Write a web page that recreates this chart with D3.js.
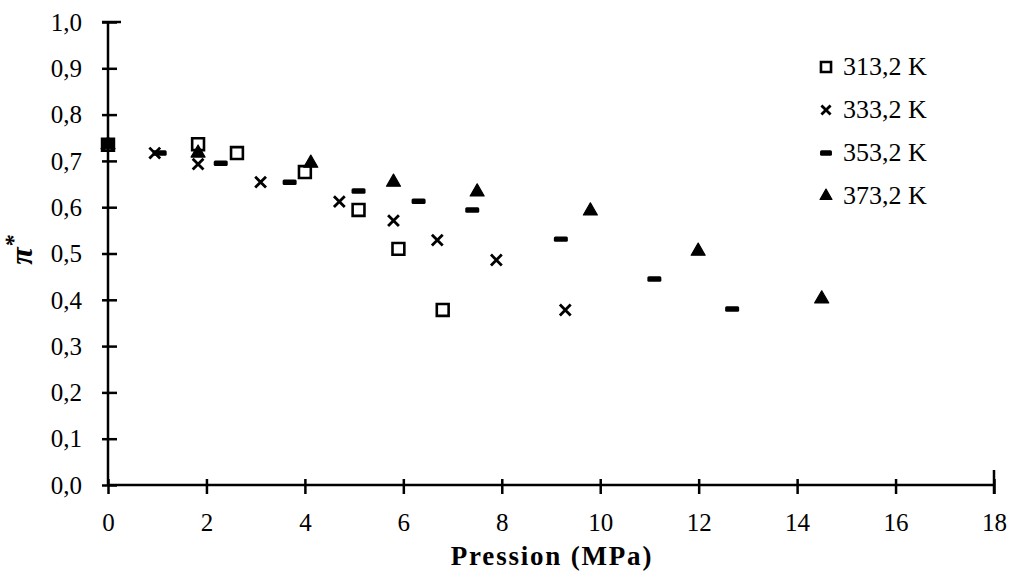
<!DOCTYPE html>
<html>
<head>
<meta charset="utf-8">
<script src="https://cdn.jsdelivr.net/npm/d3@7/dist/d3.min.js"></script>
<style>
  html, body { margin: 0; padding: 0; background: #fff; }
  svg { display: block; }
  text { font-family: "Liberation Serif", "DejaVu Serif", serif; fill: #000; }
</style>
</head>
<body>
<svg id="chart" width="1010" height="571"></svg>
<script>
// ---- data ----
const seriesNames = ["313,2 K", "333,2 K", "353,2 K", "373,2 K"];
const p313 = [0, 1.83, 2.62, 4.0, 5.09, 5.9, 6.8];
const v313 = [0.735, 0.736, 0.717, 0.676, 0.594, 0.510, 0.378];
const p333 = [0, 0.95, 1.83, 3.1, 4.7, 5.8, 6.69, 7.89, 9.29];
const v333 = [0.735, 0.717, 0.693, 0.654, 0.612, 0.571, 0.529, 0.486, 0.378];
const p353 = [0, 1.05, 2.29, 3.69, 5.09, 6.31, 7.4, 9.2, 11.1, 12.68];
const v353 = [0.735, 0.717, 0.695, 0.654, 0.635, 0.613, 0.594, 0.531, 0.445, 0.380];
const p373 = [0, 1.83, 4.12, 5.8, 7.5, 9.8, 11.99, 14.5];
const v373 = [0.735, 0.717, 0.695, 0.654, 0.633, 0.592, 0.505, 0.402];
const xTicks = [0, 2, 4, 6, 8, 10, 12, 14, 16, 18];
const yTicks = [0, 0.1, 0.2, 0.3, 0.4, 0.5, 0.6, 0.7, 0.8, 0.9, 1.0];
const xTitle = "Pression (MPa)";

const series = [
  {name: seriesNames[0], p: p313, v: v313, kind: "square"},
  {name: seriesNames[1], p: p333, v: v333, kind: "times"},
  {name: seriesNames[2], p: p353, v: v353, kind: "dash"},
  {name: seriesNames[3], p: p373, v: v373, kind: "triangle"}
];

const svg = d3.select("#chart");
const x = d3.scaleLinear().domain([0, 18]).range([108, 994]);
const y = d3.scaleLinear().domain([0, 1]).range([485, 22]);
const fmt = v => d3.format(".1f")(v).replace(".", ",");

// axes
const xAxis = d3.axisBottom(x).tickValues(xTicks).tickSize(0).tickPadding(0).tickFormat(d => String(d));
const gx = svg.append("g").attr("transform", `translate(0,${y(0)})`).call(xAxis);
gx.select(".domain").remove();
gx.selectAll(".tick text").attr("y", 46).attr("dy", null).style("font-size", "25px").style("font-family", "Liberation Serif");
gx.selectAll(".tick").append("line").attr("y1", -6).attr("y2", 9).attr("stroke", "#000").attr("stroke-width", 2.5);

const yAxis = d3.axisLeft(y).tickValues(yTicks).tickSize(0).tickPadding(0).tickFormat(fmt);
const gy = svg.append("g").attr("transform", `translate(${x(0)},0)`).call(yAxis);
gy.select(".domain").remove();
gy.selectAll(".tick text").attr("x", -26).attr("dy", "0.33em").style("font-size", "25px").style("font-family", "Liberation Serif");
gy.selectAll(".tick").append("line").attr("x1", -6).attr("x2", 9).attr("stroke", "#000").attr("stroke-width", 2.5);

// axis lines
svg.append("line").attr("x1", x(0)).attr("x2", x(18)).attr("y1", y(0)).attr("y2", y(0))
  .attr("stroke", "#000").attr("stroke-width", 2.5);
svg.append("line").attr("x1", x(0)).attr("x2", x(0)).attr("y1", y(0)).attr("y2", y(1))
  .attr("stroke", "#000").attr("stroke-width", 2.5);
// end caps (Excel-style)
svg.append("line").attr("x1", x(0) - 6).attr("x2", x(0) + 13).attr("y1", y(1)).attr("y2", y(1))
  .attr("stroke", "#000").attr("stroke-width", 2.5);
svg.append("line").attr("x1", x(18)).attr("x2", x(18)).attr("y1", y(0) - 15).attr("y2", y(0) + 9)
  .attr("stroke", "#000").attr("stroke-width", 2.5);

// titles
svg.append("text").attr("x", 552).attr("y", 565).attr("text-anchor", "middle")
  .style("font-size", "27px").style("font-weight", "bold").style("letter-spacing", "1.8px").text(xTitle);
const yl = svg.append("text").attr("transform", "translate(32,250) rotate(-90)").attr("text-anchor", "middle")
  .style("font-size", "32px").style("font-weight", "bold").style("font-style", "italic");
yl.append("tspan").text("π");
yl.append("tspan").attr("dy", -11).style("font-size", "24px").text("*");

// markers
function drawMarker(g, kind, cx, cy, scale) {
  const s = scale || 1;
  if (kind === "square") {
    g.append("path").attr("d", d3.symbol(d3.symbolSquare, 140 * s * s)())
      .attr("transform", `translate(${cx},${cy})`)
      .attr("fill", "none").attr("stroke", "#000").attr("stroke-width", 2.6);
  } else if (kind === "times") {
    g.append("path").attr("d", d3.symbol(d3.symbolTimes, 78 * s * s)())
      .attr("transform", `translate(${cx},${cy})`)
      .attr("fill", "none").attr("stroke", "#000").attr("stroke-width", 2.8);
  } else if (kind === "dash") {
    g.append("rect").attr("x", cx - 7 * s).attr("y", cy - 2.7).attr("width", 14 * s).attr("height", 5.4)
      .attr("rx", 1.5).attr("fill", "#000");
  } else {
    g.append("path").attr("d", d3.symbol(d3.symbolTriangle, 85 * s * s)())
      .attr("transform", `translate(${cx},${cy})`)
      .attr("fill", "#000").attr("stroke", "#000").attr("stroke-width", 1.2).attr("stroke-linejoin", "round");
  }
}

const plot = svg.append("g");
series.forEach(sr => {
  const g = plot.append("g");
  sr.p.forEach((pv, i) => drawMarker(g, sr.kind, x(pv), y(sr.v[i])));
});

// legend
const legend = svg.append("g");
const rowsY = [67, 110, 153, 196];
series.forEach((sr, i) => {
  drawMarker(legend, sr.kind, 826, rowsY[i], 0.85);
  legend.append("text").attr("x", 843).attr("y", rowsY[i] + 8)
    .style("font-size", "26px").text(sr.name);
});
</script>
</body>
</html>
